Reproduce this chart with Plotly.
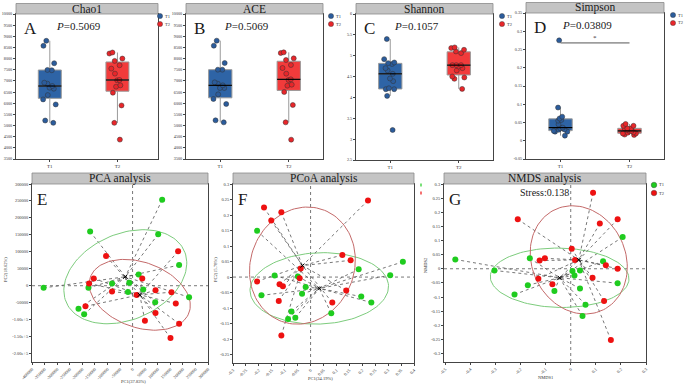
import numpy as np
import plotly.graph_objects as go

W, H = 685, 386
FONT = "Liberation Serif"

groups = ["T1", "T2"]

# ---------------- alpha diversity data ----------------
chao1_T1 = [8574, 8799, 7793, 7492, 7477, 6877, 6922, 6652, 6697, 6772, 6366, 6171, 5946, 5225, 5120]
chao1_T2 = [7898, 7703, 8273, 8228, 8003, 7553, 7328, 7027, 7042, 6802, 6742, 6471, 5901, 5120, 4369]
ace_T1 = [8805, 8580, 7803, 7504, 7504, 6682, 6802, 6877, 6937, 6682, 6399, 6190, 5966, 5234, 5144]
ace_T2 = [8281, 8251, 7938, 8013, 7579, 7714, 7325, 7041, 6832, 6787, 6503, 5921, 5144, 4367, 7071]
shannon_T1 = [5.399, 4.918, 4.838, 4.822, 4.702, 4.646, 4.566, 4.454, 4.39, 4.197, 4.197, 4.22, 4.037, 3.22, 4.80]
shannon_T2 = [5.183, 5.143, 5.199, 5.103, 5.063, 4.774, 4.774, 4.742, 4.702, 4.646, 4.478, 4.502, 4.446, 4.205, 4.774]
simpson_T1 = [0.275, 0.091, 0.066, 0.061, 0.057, 0.055, 0.045, 0.031, 0.036, 0.034, 0.027, 0.025, 0.025, 0.014, 0.030]
simpson_T2 = [0.046, 0.041, 0.041, 0.034, 0.034, 0.034, 0.030, 0.027, 0.027, 0.022, 0.020, 0.020, 0.017, 0.016, 0.023]

alpha_titles = ["Chao1", "ACE", "Shannon", "Simpson"]
alpha_letters = ["A", "B", "C", "D"]
alpha_p = ["0.5069", "0.5069", "0.1057", "0.03809"]

chao_ticks = [3500, 4000, 4500, 5000, 5500, 6000, 6500, 7000, 7500, 8000, 8500, 9000, 9500, 10000]
shannon_ticks = [2.5, 3, 3.5, 4, 4.5, 5, 5.5, 6]
shannon_ticktext = ["2.5", "3", "3.5", "4", "4.5", "5", "5.5", "6"]
simpson_ticks = [-0.05, 0, 0.05, 0.1, 0.15, 0.2, 0.25, 0.3, 0.35]
simpson_ticktext = ["-0.05", "0", "0.05", "0.1", "0.15", "0.2", "0.25", "0.3", "0.35"]

# ---------------- ordination data ----------------
pca_T1_x = [117736, -168868, 101887, 185094, 23961, -353774, -175472, -81700, -13020, -18303, 42451, 90000, 224715, -215095, -192642]
pca_T1_y = [253557, 159684, 151779, 60870, 33202, -6324, -6324, 6522, 8501, -18181, -11264, -48813, -33998, -67588, -84387]
pca_T2_x = [181130, -105473, -154340, 38489, -172830, -81700, 91320, 16036, 154717, 171887, -187358, 91320, 49057, 185094, 150755]
pca_T2_y = [101384, 87550, 21344, 21344, 6522, -17193, -13240, -27075, -19169, -52766, -60671, -80434, -103161, -112054, -154544]

pcoa_T1_x = [-0.207, 0.357, 0.186, 0.308, -0.139, -0.049, -0.019, -0.033, -0.190, 0.196, 0.235, 0.080, -0.074, -0.059, -0.087]
pcoa_T1_y = [0.149, 0.049, 0.025, 0.006, 0.005, 0.002, -0.032, -0.054, -0.059, -0.063, -0.082, -0.117, -0.111, -0.131, -0.135]
pcoa_T2_x = [0.222, -0.180, -0.113, -0.152, 0.123, 0.155, -0.038, -0.042, -0.207, -0.120, -0.107, 0.138, -0.123, 0.084, -0.113]
pcoa_T2_y = [0.247, 0.224, 0.209, 0.182, 0.071, 0.054, 0.028, -0.004, -0.014, -0.023, -0.030, -0.043, -0.077, -0.082, -0.188]

nmds_T1_x = [-0.46, 0.207, -0.163, 0.129, -0.304, 0.007, 0.037, 0.015, 0.187, -0.171, 0.037, -0.065, -0.224, 0.059, 0.047]
nmds_T1_y = [0.033, 0.112, 0.037, 0.027, -0.006, -0.008, -0.006, -0.024, -0.051, -0.058, -0.070, -0.079, -0.091, -0.127, -0.167]
nmds_T2_x = [0.089, -0.211, 0.116, 0.187, 0.004, -0.103, -0.124, 0.017, 0.140, 0.187, -0.129, 0.087, -0.073, 0.133, 0.160]
nmds_T2_y = [0.269, 0.175, 0.160, 0.175, 0.071, 0.037, 0.029, 0.031, 0.012, 0.0, -0.035, -0.032, -0.055, -0.114, -0.252]

pca_xticks = [-400000, -350000, -300000, -250000, -200000, -150000, -100000, -50000, 0, 50000, 100000, 150000, 200000, 250000, 300000]
pca_yticks = [-200000, -150000, -100000, -50000, 0, 50000, 100000, 150000, 200000, 250000, 300000]
pca_yticktext = ["-2.00e+5", "-1.50e+5", "-1.00e+5", "-50000", "0", "50000", "100000", "150000", "200000", "250000", "300000"]
pcoa_xticks = [-0.3, -0.25, -0.2, -0.15, -0.1, -0.05, 0, 0.05, 0.1, 0.15, 0.2, 0.25, 0.3, 0.35, 0.4]
pcoa_yticks = [-0.25, -0.2, -0.15, -0.1, -0.05, 0, 0.05, 0.1, 0.15, 0.2, 0.25, 0.3]
nmds_xticks = [-0.5, -0.4, -0.3, -0.2, -0.1, 0, 0.1, 0.2, 0.3]
nmds_yticks = [-0.3, -0.25, -0.2, -0.15, -0.1, -0.05, 0, 0.05, 0.1, 0.15, 0.2, 0.25, 0.3]

# ---------------- styles ----------------
BOX_FILL = ["#2e64a6", "#f23b3b"]
PT_COL = ["#2b5c9c", "#e8262a"]
ORD_COL = ["#1fcc1f", "#ee1111"]
ELL_COL = ["#7dcc7d", "#c46a6a"]
TXT = "#1a1a1a"

def fmt(v):
    return "%g" % v

def px_dom_x(a, b):
    return [a / W, b / W]

def px_dom_y(a, b):
    return [1 - b / H, 1 - a / H]

# panel rectangles in pixels: (x0, x1, y0, y1)
top_rects = [(16, 158, 14, 159), (186, 323, 14, 159), (356, 493, 14, 160), (526, 664, 13, 159)]
bot_rects = [(32, 208, 184, 362), (233, 414, 184, 363), (444, 646, 184, 362)]
legend_cx = [160, 331, 502, 673]

fig = go.Figure()
layout = dict(
    width=W, height=H, margin=dict(l=0, r=0, t=0, b=0),
    paper_bgcolor="white", plot_bgcolor="white", showlegend=False,
    template="none", font=dict(family=FONT, color=TXT),
    shapes=[], annotations=[],
)

def axis_common(tsize=4.5):
    return dict(showline=True, mirror=True, linecolor="#444", linewidth=1,
                ticks="outside", ticklen=2, tickwidth=0.8, tickcolor="#444",
                showgrid=False, zeroline=False, automargin=False,
                tickfont=dict(family=FONT, size=tsize, color="#333"))

def ann(x, y, text, size, xanchor="center", color=TXT, angle=0, family=FONT):
    layout["annotations"].append(dict(xref="paper", yref="paper", x=x / W, y=1 - y / H, text=text,
                                      showarrow=False, xanchor=xanchor, yanchor="middle", textangle=angle,
                                      borderpad=0, font=dict(family=family, size=size, color=color)))

def legend_dot(cx, cy, color, r=2.6):
    layout["shapes"].append(dict(type="circle", xref="paper", yref="paper",
                                 x0=(cx - r) / W, x1=(cx + r) / W, y0=1 - (cy + r) / H, y1=1 - (cy - r) / H,
                                 fillcolor=color, line=dict(color="#333", width=0.4)))

alpha_data = [(chao1_T1, chao1_T2), (ace_T1, ace_T2), (shannon_T1, shannon_T2), (simpson_T1, simpson_T2)]
alpha_yaxes = [
    dict(range=[3500, 10000], tickvals=chao_ticks, ticktext=[str(t) for t in chao_ticks]),
    dict(range=[3500, 10000], tickvals=chao_ticks, ticktext=[str(t) for t in chao_ticks]),
    dict(range=[2.5, 6], tickvals=shannon_ticks, ticktext=shannon_ticktext),
    dict(range=[-0.05, 0.35], tickvals=simpson_ticks, ticktext=simpson_ticktext),
]
xr_top = [[-0.5, 1.6], [-0.5, 1.5], [-0.5, 1.5], [-0.5, 1.5]]
BW = 0.34

for i in range(4):
    k = i + 1
    xa = "x" if k == 1 else "x%d" % k
    ya = "y" if k == 1 else "y%d" % k
    x0, x1, y0, y1 = top_rects[i]
    ax = axis_common(4.5)
    ax.update(domain=px_dom_x(x0, x1), range=xr_top[i], tickvals=[0, 1], ticktext=groups,
              anchor=ya, tickfont=dict(family=FONT, size=5, color="#333"))
    ay = axis_common(4.2)
    ay.update(domain=px_dom_y(y0, y1), anchor=xa, **alpha_yaxes[i])
    layout["xaxis" if k == 1 else "xaxis%d" % k] = ax
    layout["yaxis" if k == 1 else "yaxis%d" % k] = ay
    for g in range(2):
        vals = alpha_data[i][g]
        fig.add_trace(go.Box(
            y=vals, x0=g, name=groups[g], xaxis=xa, yaxis=ya, width=BW,
            boxpoints="all", jitter=0.75, pointpos=0, whiskerwidth=0,
            fillcolor=BOX_FILL[g], line=dict(color="#9a9a9a", width=1),
            marker=dict(color=PT_COL[g], size=5, line=dict(color="#333", width=0.5)),
        ))
        med = float(np.percentile(vals, 50))
        fig.add_trace(go.Scatter(x=[g - BW / 2, g + BW / 2], y=[med, med], mode="lines",
                                 line=dict(color="black", width=1.2), xaxis=xa, yaxis=ya,
                                 hoverinfo="skip"))
    # title bar
    layout["shapes"].append(dict(type="rect", xref="paper", yref="paper",
                                 x0=x0 / W, x1=x1 / W, y0=1 - y0 / H, y1=1 - (y0 - 10.5) / H,
                                 fillcolor="#c4c4c4", line=dict(color="#8a8a8a", width=0.8)))
    ann((x0 + x1) / 2, y0 - 5.0, alpha_titles[i], 11.5)
    ann(x0 + 7, y0 + 14, alpha_letters[i], 17, xanchor="left")
    ann(x0 + 0.44 * (x1 - x0), y0 + 12, "<i>P</i>=" + alpha_p[i], 11)
    # per-panel legend
    for g in range(2):
        ly = y0 + 2 + g * 8
        legend_dot(legend_cx[i], ly, PT_COL[g])
        ann(legend_cx[i] + 3.6, ly, groups[g], 4.5, xanchor="left", color="#333")

# significance bar on Simpson
layout["shapes"].append(dict(type="line", xref="x4", yref="y4", x0=0, x1=1, y0=0.268, y1=0.268,
                             line=dict(color="#555", width=1)))
layout["annotations"].append(dict(xref="x4", yref="y4", x=0.5, y=0.268, text="*", showarrow=False,
                                  yanchor="bottom", borderpad=0, font=dict(size=7, color="#333")))

# ---------------- ordination panels ----------------
ord_data = [
    ((pca_T1_x, pca_T1_y), (pca_T2_x, pca_T2_y)),
    ((pcoa_T1_x, pcoa_T1_y), (pcoa_T2_x, pcoa_T2_y)),
    ((nmds_T1_x, nmds_T1_y), (nmds_T2_x, nmds_T2_y)),
]
ord_titles = ["PCA analysis", "PCoA analysis", "NMDS analysis"]
ord_letters = ["E", "F", "G"]
ord_xtitle = ["PC1(37.83%)", "PC1(34.19%)", "NMDS1"]
ord_ytitle = ["PC2(18.62%)", "PC2(15.78%)", "NMDS2"]
xtitle_pos = [(133, 381), (320, 378.5), (545, 377)]
ytitle_pos = [(5, 270), (215, 270), (425, 266)]
ord_x = [
    dict(range=[-400000, 300000], tickvals=pca_xticks, ticktext=[str(t) for t in pca_xticks]),
    dict(range=[-0.3, 0.4], tickvals=pcoa_xticks, ticktext=[fmt(t) for t in pcoa_xticks]),
    dict(range=[-0.505, 0.3], tickvals=nmds_xticks, ticktext=[fmt(t) for t in nmds_xticks]),
]
ord_y = [
    dict(range=[-225000, 300000], tickvals=pca_yticks, ticktext=pca_yticktext),
    dict(range=[-0.277, 0.3], tickvals=pcoa_yticks, ticktext=[fmt(t) for t in pcoa_yticks]),
    dict(range=[-0.33, 0.3], tickvals=nmds_yticks, ticktext=[fmt(t) for t in nmds_yticks]),
]
ELL_SCALE = 1.48
tt = np.linspace(0, 2 * np.pi, 120)

def ellipse(xs, ys, s):
    xs = np.asarray(xs, float); ys = np.asarray(ys, float)
    cov = np.cov(xs, ys)
    vals, vecs = np.linalg.eigh(cov)
    circ = np.vstack([np.cos(tt), np.sin(tt)])
    pts = vecs @ (np.sqrt(vals)[:, None] * circ) * s
    return xs.mean() + pts[0], ys.mean() + pts[1]

for j in range(3):
    k = j + 5
    xa, ya = "x%d" % k, "y%d" % k
    x0, x1, y0, y1 = bot_rects[j]
    ax = axis_common(4.4)
    ax.update(domain=px_dom_x(x0, x1), anchor=ya, tickangle=-45, **ord_x[j])
    ay = axis_common(4.4)
    ay.update(domain=px_dom_y(y0, y1), anchor=xa, **ord_y[j])
    layout["xaxis%d" % k] = ax
    layout["yaxis%d" % k] = ay
    # zero lines
    layout["shapes"].append(dict(type="line", xref=xa, yref=ya + " domain", x0=0, x1=0, y0=0, y1=1,
                                 line=dict(color="#555", width=0.8, dash="dot"), layer="below"))
    layout["shapes"].append(dict(type="line", xref=xa + " domain", yref=ya, x0=0, x1=1, y0=0, y1=0,
                                 line=dict(color="#555", width=0.8, dash="dot"), layer="below"))
    for g in range(2):
        xs, ys = ord_data[j][g]
        cx, cy = float(np.mean(xs)), float(np.mean(ys))
        lx, ly = [], []
        for a, b in zip(xs, ys):
            lx += [a, cx, None]
            ly += [b, cy, None]
        fig.add_trace(go.Scatter(x=lx, y=ly, mode="lines", xaxis=xa, yaxis=ya,
                                 line=dict(color="#555", width=0.8, dash="dot"), hoverinfo="skip"))
        ex, ey = ellipse(xs, ys, ELL_SCALE)
        fig.add_trace(go.Scatter(x=ex, y=ey, mode="lines", xaxis=xa, yaxis=ya,
                                 line=dict(color=ELL_COL[g], width=1), hoverinfo="skip"))
    for g in range(2):
        xs, ys = ord_data[j][g]
        fig.add_trace(go.Scatter(x=xs, y=ys, mode="markers", name=groups[g], xaxis=xa, yaxis=ya,
                                 marker=dict(color=ORD_COL[g], size=6)))
        fig.add_trace(go.Scatter(x=[float(np.mean(xs))], y=[float(np.mean(ys))], mode="markers",
                                 xaxis=xa, yaxis=ya, hoverinfo="skip",
                                 marker=dict(symbol="x-thin", size=4, line=dict(color="black", width=1))))
    layout["shapes"].append(dict(type="rect", xref="paper", yref="paper",
                                 x0=x0 / W, x1=x1 / W, y0=1 - y0 / H, y1=1 - (y0 - 11) / H,
                                 fillcolor="#c4c4c4", line=dict(color="#8a8a8a", width=0.8)))
    ann((x0 + x1) / 2, y0 - 5.3, ord_titles[j], 11.5)
    ann(x0 + 4, y0 + 15, ord_letters[j], 17, xanchor="left")
    ann(xtitle_pos[j][0], xtitle_pos[j][1], ord_xtitle[j], 4.5, color="#333")
    ann(ytitle_pos[j][0], ytitle_pos[j][1], ord_ytitle[j], 4.5, color="#333", angle=-90)

# Stress label
ann(544, 192, "Stress:0.138", 10)
# F legend (tiny marks)
for g in range(2):
    layout["shapes"].append(dict(type="line", xref="paper", yref="paper",
                                 x0=421 / W, x1=421 / W, y0=1 - (183.5 + 8 * g) / H, y1=1 - (186.5 + 8 * g) / H,
                                 line=dict(color=ORD_COL[g], width=1.2)))
# G legend
for g in range(2):
    ly = 185 + 8 * g
    legend_dot(654, ly, ORD_COL[g], r=2.8)
    ann(657.5, ly, groups[g], 4.5, xanchor="left", color="#333")

fig.update_layout(**layout)
fig.write_html("out.html", config={"displayModeBar": False},
               post_script="document.body.style.margin='0';document.body.style.overflow='hidden';")
